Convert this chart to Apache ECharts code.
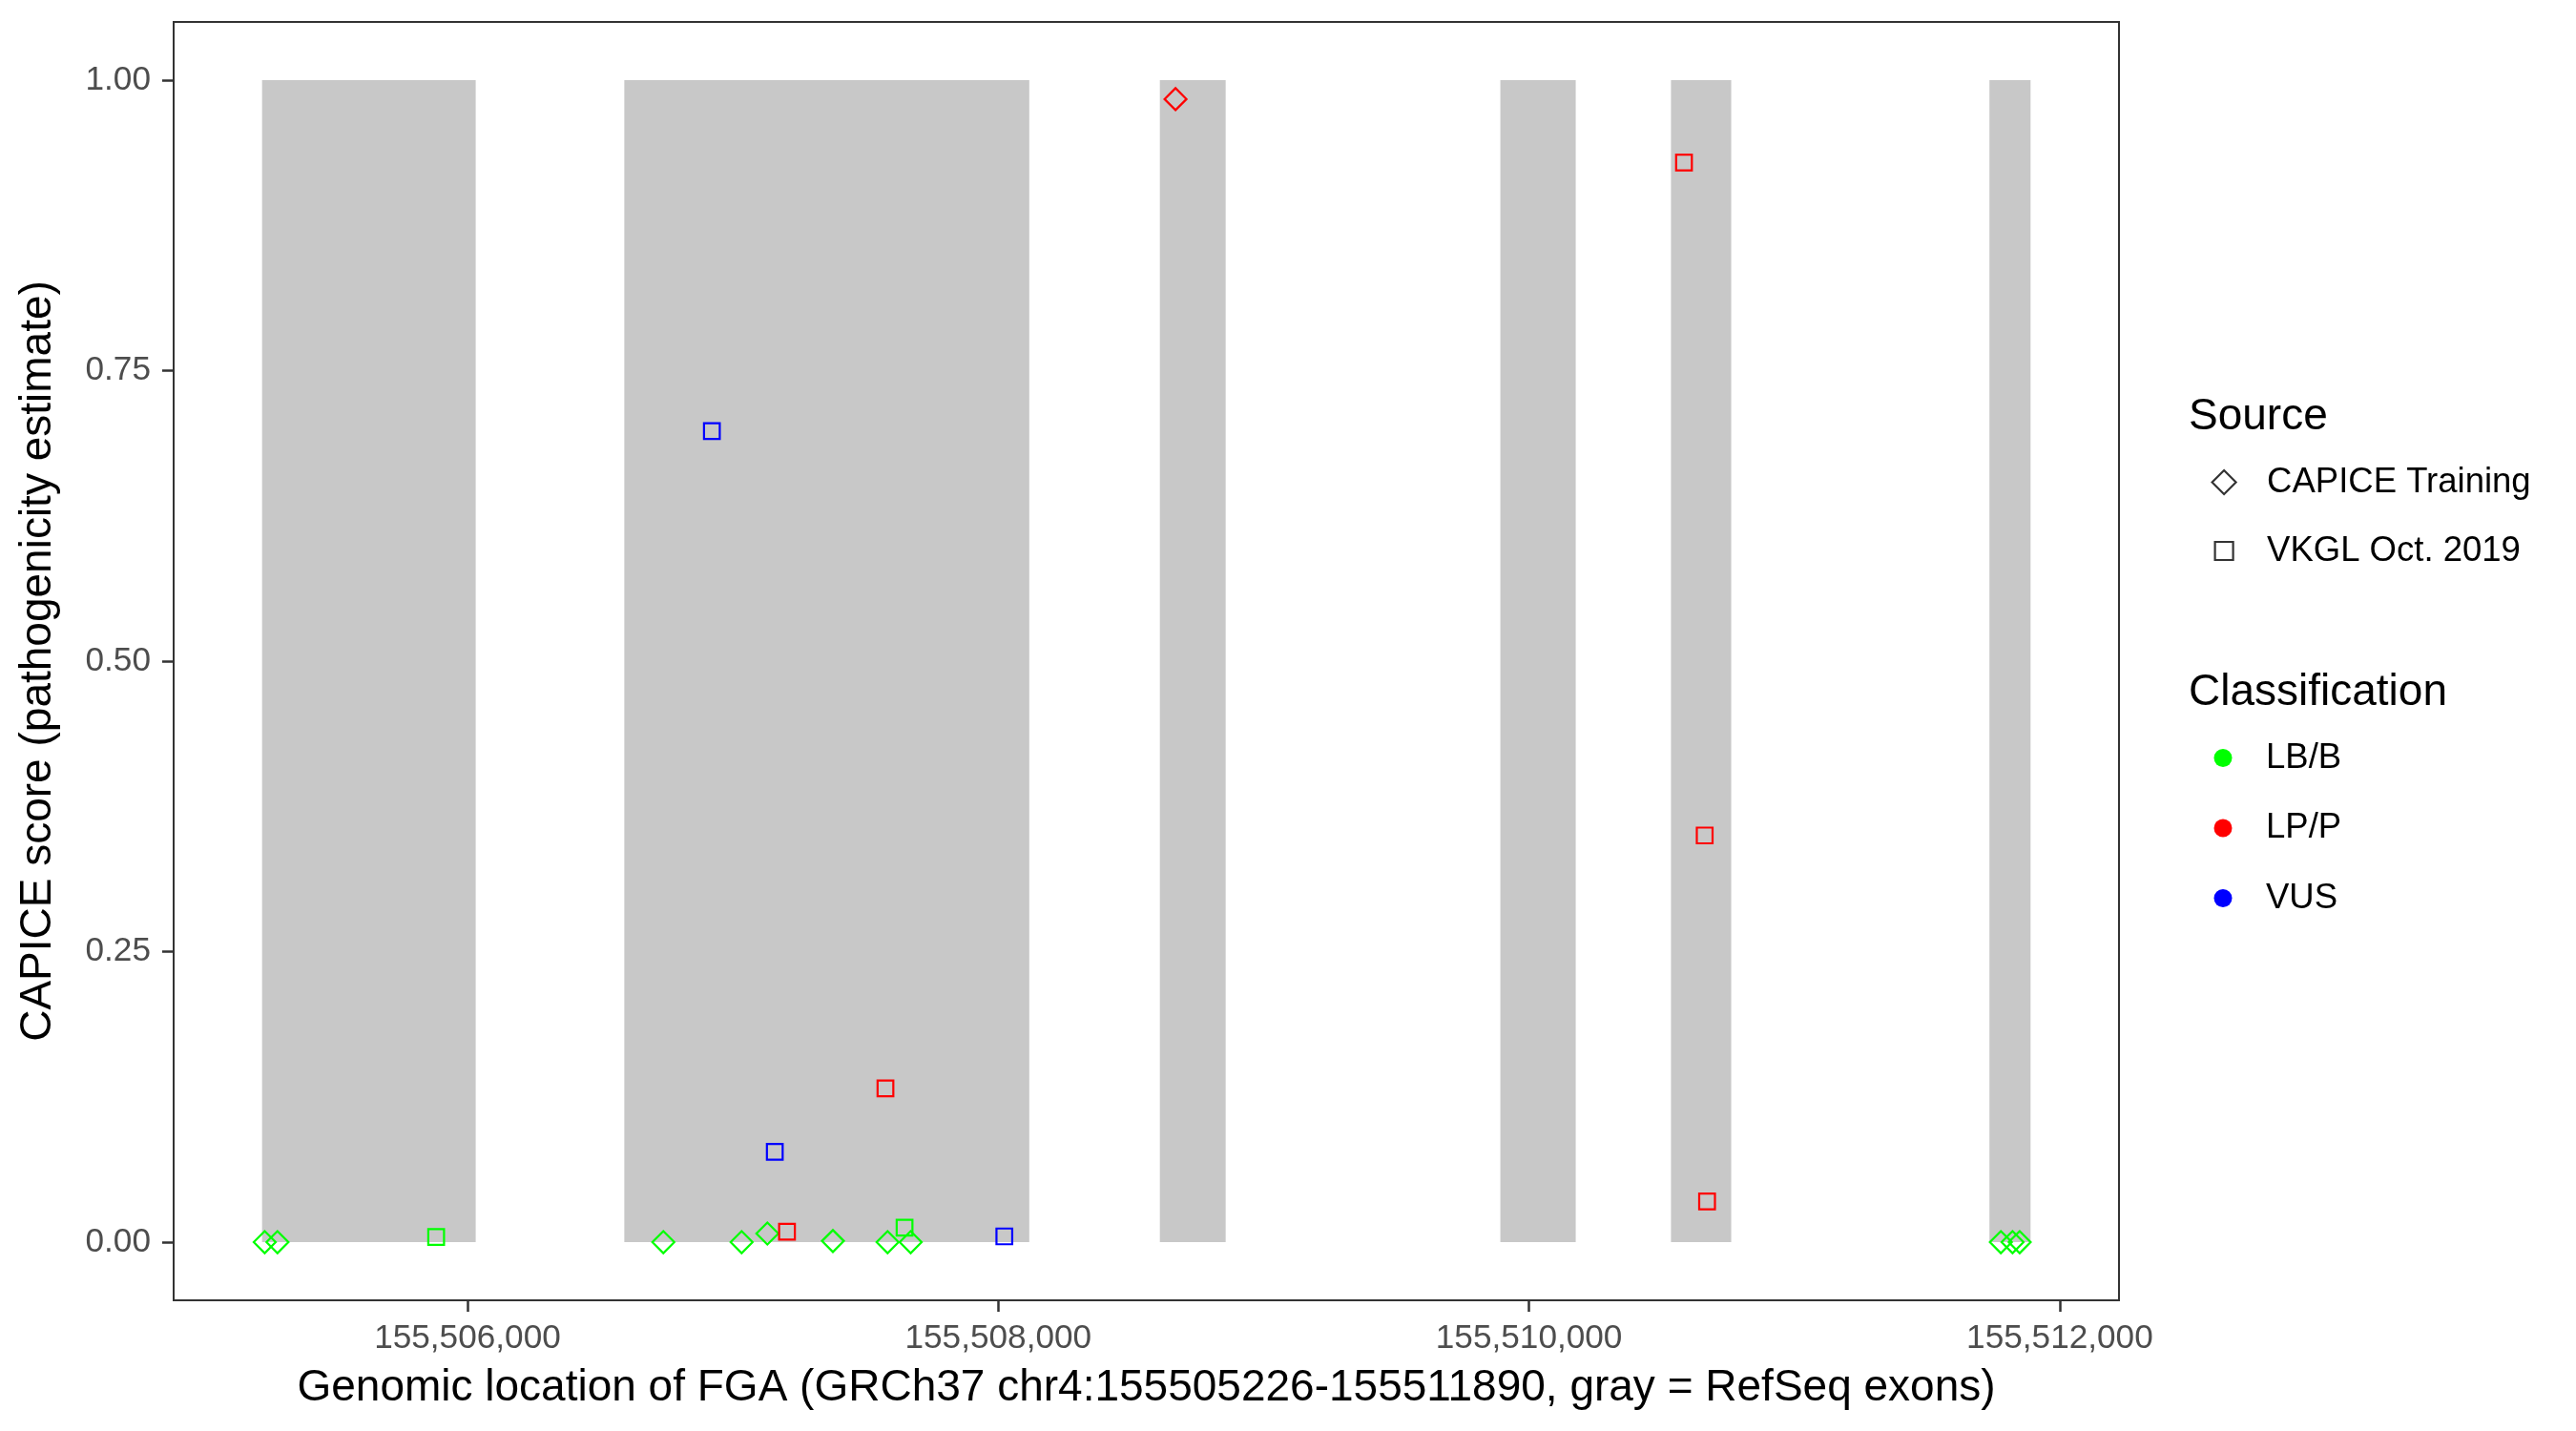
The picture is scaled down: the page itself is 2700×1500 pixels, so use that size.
<!DOCTYPE html>
<html><head><meta charset="utf-8">
<script src="https://cdn.jsdelivr.net/npm/echarts@6/dist/echarts.min.js"></script>
<style>html,body{margin:0;padding:0;background:#fff}#c{width:2700px;height:1500px}</style>
</head><body><div id="c"></div>
<script>
const geneStart = 155505226;
const geneEnd = 155511890;
const exonStart = [155505226, 155506591, 155508609, 155509892, 155510535, 155511735];
const exonEnd   = [155506031, 155508117, 155508857, 155510176, 155510762, 155511890];

const capicePos   = [155505236, 155505284, 155506738, 155507033, 155507130, 155507377, 155507583, 155507670, 155508668, 155511778, 155511822, 155511849];
const capiceScore = [0, 0, 0, 0, 0.0075, 0.001, 0, 0, 0.9836, 0, 0, 0];
const capiceClass = ['LB/B','LB/B','LB/B','LB/B','LB/B','LB/B','LB/B','LB/B','LP/P','LB/B','LB/B','LB/B'];

const vkglPos   = [155505882, 155506921, 155507158, 155507204, 155507575, 155507647, 155508023, 155510584, 155510662, 155510671];
const vkglScore = [0.0045, 0.698, 0.0778, 0.009, 0.1324, 0.0125, 0.005, 0.929, 0.35, 0.035];
const vkglClass = ['LB/B','VUS','VUS','LP/P','LP/P','LB/B','VUS','LP/P','LP/P','LP/P'];

const xTicks = [155506000, 155508000, 155510000, 155512000];
const yTicks = [0, 0.25, 0.5, 0.75, 1];
const classNames  = ['LB/B', 'LP/P', 'VUS'];
const classColors = ['#00FF00', '#FF0000', '#0000FF'];
const sourceNames = ['CAPICE Training', 'VKGL Oct. 2019'];

const FONT = 'Liberation Sans, Arial, sans-serif';
const pad = (geneEnd - geneStart) * 0.05;
const DIAMOND = 23, SQUARE = 16.5, SW = 2.2;
const ICON_X = 2330, TEXT_X = 2375;

const classSeries = classNames.map((cn, ci) => {
  const data = [];
  capicePos.forEach((p, i) => { if (capiceClass[i] === cn) data.push({ value: [p, capiceScore[i]], symbol: 'diamond', symbolSize: DIAMOND }); });
  vkglPos.forEach((p, i) => { if (vkglClass[i] === cn) data.push({ value: [p, vkglScore[i]], symbol: 'rect', symbolSize: SQUARE }); });
  return {
    type: 'scatter', name: cn, data: data, z: 5,
    itemStyle: { color: 'rgba(0,0,0,0)', borderColor: classColors[ci], borderWidth: SW, opacity: 1 },
    emphasis: { disabled: true }
  };
});

const sourceSeries = sourceNames.map((sn, si) => ({
  type: 'scatter', name: sn, data: [], symbol: si === 0 ? 'diamond' : 'rect',
  itemStyle: { color: 'rgba(0,0,0,0)', borderColor: '#000', borderWidth: SW }
}));

const exonSeries = {
  type: 'custom', name: 'exons', z: 1, silent: true,
  encode: { x: [0, 1] },
  data: exonStart.map((s, i) => [s, exonEnd[i]]),
  renderItem: (params, api) => {
    const a = api.coord([api.value(0), 1]);
    const b = api.coord([api.value(1), 0]);
    return { type: 'rect', shape: { x: a[0], y: a[1], width: b[0] - a[0], height: b[1] - a[1] }, style: { fill: '#C8C8C8' } };
  }
};

function makeLegend(top, size, gap, items) {
  return {
    orient: 'vertical', left: ICON_X - size / 2, top: top, padding: 0,
    itemWidth: size, itemHeight: size, itemGap: gap, selectedMode: false,
    textStyle: { fontSize: 36.5, lineHeight: 36, color: '#000', fontFamily: FONT,
      padding: [0, 0, 0, TEXT_X - (ICON_X + size / 2 + 5)] },
    data: items
  };
}
const hollow = { color: 'rgba(0,0,0,0)', borderColor: '#000', borderWidth: SW };

const option = {
  animation: false,
  backgroundColor: '#fff',
  grid: { left: 182, right: 479, top: 23, bottom: 137, show: true, borderColor: '#333333', borderWidth: 2, backgroundColor: 'transparent' },
  xAxis: {
    type: 'value', min: geneStart - pad, max: geneEnd + pad,
    name: 'Genomic location of FGA (GRCh37 chr4:155505226-155511890, gray = RefSeq exons)',
    nameLocation: 'middle', nameGap: 69,
    nameTextStyle: { fontSize: 46, color: '#000', fontFamily: FONT },
    axisLine: { show: false, onZero: false },
    splitLine: { show: false },
    axisTick: { show: true, length: 12, customValues: xTicks, lineStyle: { color: '#333333', width: 2.5 } },
    axisLabel: { customValues: xTicks, fontSize: 35.2, color: '#4D4D4D', fontFamily: FONT, margin: 23,
      formatter: v => Number(v).toLocaleString('en-US') }
  },
  yAxis: {
    type: 'value', min: -0.05, max: 1.05,
    name: 'CAPICE score (pathogenicity estimate)',
    nameLocation: 'middle', nameGap: 119,
    nameTextStyle: { fontSize: 46, color: '#000', fontFamily: FONT },
    axisLine: { show: false, onZero: false },
    splitLine: { show: false },
    axisTick: { show: true, length: 12, customValues: yTicks, lineStyle: { color: '#333333', width: 2.5 } },
    axisLabel: { customValues: yTicks, fontSize: 35.2, color: '#4D4D4D', fontFamily: FONT, margin: 24,
      formatter: v => Number(v).toFixed(2) }
  },
  legend: [
    makeLegend(487, 25, 10, [{ name: sourceNames[0], icon: 'diamond', itemStyle: hollow }]),
    makeLegend(559, 19, 10, [{ name: sourceNames[1], icon: 'rect', itemStyle: hollow }]),
    makeLegend(776, 19, 36.5, classNames.map((cn, ci) => ({ name: cn, icon: 'circle', itemStyle: { color: classColors[ci], borderWidth: 0 } })))
  ],
  graphic: [
    { type: 'text', x: 2294, y: 437, style: { text: 'Source', fontSize: 46, fontFamily: FONT, fill: '#000', verticalAlign: 'middle', align: 'left' } },
    { type: 'text', x: 2294, y: 726, style: { text: 'Classification', fontSize: 46, fontFamily: FONT, fill: '#000', verticalAlign: 'middle', align: 'left' } }
  ],
  series: [exonSeries].concat(classSeries, sourceSeries)
};

const chart = echarts.init(document.getElementById('c'), null, { renderer: 'canvas' });
chart.setOption(option);
</script></body></html>
